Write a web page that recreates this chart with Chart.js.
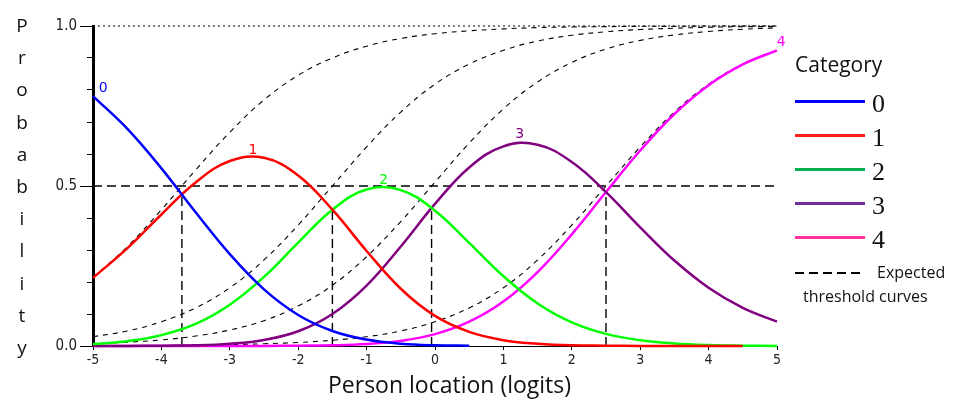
<!DOCTYPE html>
<html>
<head>
<meta charset="utf-8">
<script src="https://cdn.jsdelivr.net/npm/chart.js@4.4.1/dist/chart.umd.min.js"></script>
<style>
  body { margin: 0; background: #fff; }
  #wrap { position: relative; width: 959px; height: 399px; }
  #myChart { position: absolute; left: 0; top: 0; }
  .ylab { position: absolute; left: 10px; top: 9px; width: 24px; text-align: center;
          font: 19px "Open Sans"; line-height: 32.2px; color: #111; }
  .leg { position: absolute; color: #111; white-space: nowrap; }
  .legline { position: absolute; left: 795px; width: 70px; height: 3px; }
  .num { position: absolute; left: 872px; font: 26px "Liberation Serif"; line-height: 30px; color: #111; }
</style>
</head>
<body>
<div id="wrap">
  <canvas id="myChart" width="959" height="399"></canvas>
  <div class="ylab">P<br>r<br>o<br>b<br>a<br>b<br>i<br>l<br>i<br>t<br>y</div>
  <div class="leg" style="left:328px;top:370px;font:23px 'Open Sans';line-height:28px;">Person location (logits)</div>

  <div class="leg" style="left:795px;top:52px;font:21px 'Open Sans';line-height:24px;">Category</div>
  <div class="legline" style="top:100px;background:#0000ff"></div>
  <div class="legline" style="top:134px;background:#ff1f1f"></div>
  <div class="legline" style="top:168px;background:#00b050"></div>
  <div class="legline" style="top:202px;background:#7030a0"></div>
  <div class="legline" style="top:236px;background:#ff3399"></div>
  <div class="num" style="top:89px">0</div>
  <div class="num" style="top:123px">1</div>
  <div class="num" style="top:157px">2</div>
  <div class="num" style="top:191px">3</div>
  <div class="num" style="top:225px">4</div>
  <div class="legline" style="top:272px;width:66px;height:2px;background:repeating-linear-gradient(to right,#000 0 9px,transparent 9px 14px)"></div>
  <div class="leg" style="left:877px;top:262px;font:16px 'Open Sans';line-height:20px;">Expected</div>
  <div class="leg" style="left:803px;top:286px;font:16px 'Open Sans';line-height:20px;">threshold curves</div>
</div>

<script>
// person location (logits)
const logits = [-5, -4.5, -4, -3.5, -3, -2.5, -2, -1.5, -1, -0.5, 0, 0.5, 1, 1.5, 2, 2.5, 3, 3.5, 4, 4.5, 5];

// category probability curves
const cat0 = [0.781, 0.679, 0.555, 0.418, 0.287, 0.177, 0.097, 0.047, 0.020, 0.007, 0.002, 0.001, null, null, null, null, null, null, null, null, null];
const cat1 = [0.213, 0.305, 0.411, 0.511, 0.578, 0.588, 0.533, 0.426, 0.297, 0.179, 0.094, 0.044, 0.018, 0.007, 0.002, 0.001, 0.0, 0.0, 0.0, 0.0, null];
const cat2 = [0.006, 0.015, 0.034, 0.069, 0.129, 0.216, 0.323, 0.426, 0.489, 0.487, 0.423, 0.322, 0.218, 0.133, 0.074, 0.038, 0.018, 0.008, 0.003, 0.001, 0.0];
const cat3 = [0.0, 0.0, 0.001, 0.002, 0.007, 0.019, 0.046, 0.100, 0.189, 0.311, 0.444, 0.558, 0.624, 0.629, 0.575, 0.481, 0.371, 0.267, 0.182, 0.119, 0.076];
const cat4 = [0.0, 0.0, 0.0, 0.0, 0.0, 0.0, 0.001, 0.002, 0.006, 0.016, 0.037, 0.076, 0.139, 0.231, 0.349, 0.481, 0.611, 0.725, 0.815, 0.880, 0.924];

// expected threshold curves (dashed)
const thr1 = [0.214, 0.310, 0.426, 0.550, 0.668, 0.769, 0.846, 0.900, 0.937, 0.961, 0.976, 0.985, 0.991, 0.995, 0.997, 0.998, 0.999, 0.999, 1.0, 1.0, 1.0];
const thr2 = [0.029, 0.047, 0.076, 0.119, 0.182, 0.269, 0.378, 0.500, 0.622, 0.731, 0.818, 0.881, 0.924, 0.953, 0.971, 0.982, 0.989, 0.993, 0.996, 0.998, 0.998];
const thr3 = [0.007, 0.012, 0.019, 0.031, 0.050, 0.079, 0.125, 0.190, 0.279, 0.389, 0.512, 0.634, 0.741, 0.825, 0.886, 0.928, 0.955, 0.972, 0.983, 0.990, 0.994];
const thr4 = [0.001, 0.001, 0.0015, 0.0025, 0.004, 0.007, 0.011, 0.018, 0.029, 0.047, 0.076, 0.119, 0.182, 0.269, 0.378, 0.500, 0.622, 0.731, 0.818, 0.881, 0.924];

// threshold locations and where the neighbouring curves cross
const thresholds = [-3.7, -1.5, -0.05, 2.5];
const crossings = [0.47, 0.43, 0.43, 0.48];

// little number labels on the curves
const curveLabels = ["0", "1", "2", "3", "4"];
const curveLabelX = [-4.85, -2.66, -0.75, 1.24, 5.06];
const curveLabelY = [0.805, 0.612, 0.518, 0.662, 0.949];

const catColors = ["#0000ff", "#ff0000", "#00ff00", "#800080", "#ff00ff"];

function pts(vals) {
  return logits.map((x, i) => ({ x: x, y: vals[i] }));
}

function catSet(vals, color) {
  return {
    data: pts(vals),
    borderColor: color,
    borderWidth: 2.5,
    pointRadius: 0,
    tension: 0.4,
    clip: 3,
  };
}

function thrSet(vals) {
  return {
    data: pts(vals),
    borderColor: "#000",
    borderWidth: 1.1,
    borderDash: [5, 5],
    pointRadius: 0,
    tension: 0.4,
    clip: 3,
  };
}

const datasets = [
  catSet(cat0, catColors[0]),
  catSet(cat1, catColors[1]),
  catSet(cat2, catColors[2]),
  catSet(cat3, catColors[3]),
  catSet(cat4, catColors[4]),
  thrSet(thr1),
  thrSet(thr2),
  thrSet(thr3),
  thrSet(thr4),
];

// vertical dashed lines at thresholds
thresholds.forEach((t, i) => {
  datasets.push({
    data: [{ x: t, y: 0 }, { x: t, y: crossings[i] }],
    borderColor: "#000",
    borderWidth: 1.4,
    borderDash: [9, 5],
    pointRadius: 0,
    clip: 3,
  });
});

// horizontal reference lines at 0.5 and 1.0
datasets.push({
  data: [{ x: -5, y: 0.5 }, { x: 5, y: 0.5 }],
  borderColor: "#000",
  borderWidth: 1.4,
  borderDash: [9, 5],
  pointRadius: 0,
  clip: 3,
});
datasets.push({
  data: [{ x: -5, y: 1 }, { x: 5, y: 1 }],
  borderColor: "#000",
  borderWidth: 1.2,
  borderDash: [2, 3],
  pointRadius: 0,
  clip: 3,
});

const extras = {
  id: "extras",
  afterDatasetsDraw(chart) {
    const ctx = chart.ctx;
    const xs = chart.scales.x;
    const ys = chart.scales.y;
    ctx.save();
    // long ticks at labelled values
    ctx.strokeStyle = "#000";
    ctx.lineWidth = 1;
    [0, 0.5, 1].forEach((v) => {
      const py = Math.round(ys.getPixelForValue(v)) + 0.5;
      ctx.beginPath();
      ctx.moveTo(80, py);
      ctx.lineTo(xs.left, py);
      ctx.stroke();
    });
    // curve numbers
    ctx.font = "14px 'DejaVu Sans'";
    ctx.textAlign = "center";
    ctx.textBaseline = "middle";
    curveLabels.forEach((lab, i) => {
      ctx.fillStyle = catColors[i];
      ctx.fillText(lab, xs.getPixelForValue(curveLabelX[i]), ys.getPixelForValue(curveLabelY[i]));
    });
    ctx.restore();
  },
};

new Chart(document.getElementById("myChart"), {
  type: "line",
  data: { datasets: datasets },
  options: {
    responsive: false,
    animation: false,
    devicePixelRatio: 1,
    layout: { padding: { top: 26, right: 182, left: 0, bottom: 0 } },
    plugins: { legend: { display: false }, tooltip: { enabled: false } },
    scales: {
      x: {
        type: "linear",
        min: -5,
        max: 5,
        ticks: {
          stepSize: 1,
          padding: 2,
          color: "#222",
          font: { family: "'DejaVu Sans Condensed', 'DejaVu Sans'", size: 14 },
        },
        grid: { drawOnChartArea: false, tickLength: 4, color: "#000" },
        border: { color: "#000", width: 1 },
        afterFit: (s) => { s.height = 53; },
      },
      y: {
        min: 0,
        max: 1,
        ticks: {
          stepSize: 0.1,
          autoSkip: false,
          padding: 10,
          color: "#222",
          font: { family: "'DejaVu Sans Condensed', 'DejaVu Sans'", size: 15 },
          callback: (v) => (Math.round(v * 10) % 5 === 0 ? v.toFixed(1) : ""),
        },
        grid: { drawOnChartArea: false, tickLength: 6, color: "#000" },
        border: { color: "#000", width: 3 },
        afterFit: (s) => { s.width = 93; },
      },
    },
  },
  plugins: [extras],
});
</script>
</body>
</html>
